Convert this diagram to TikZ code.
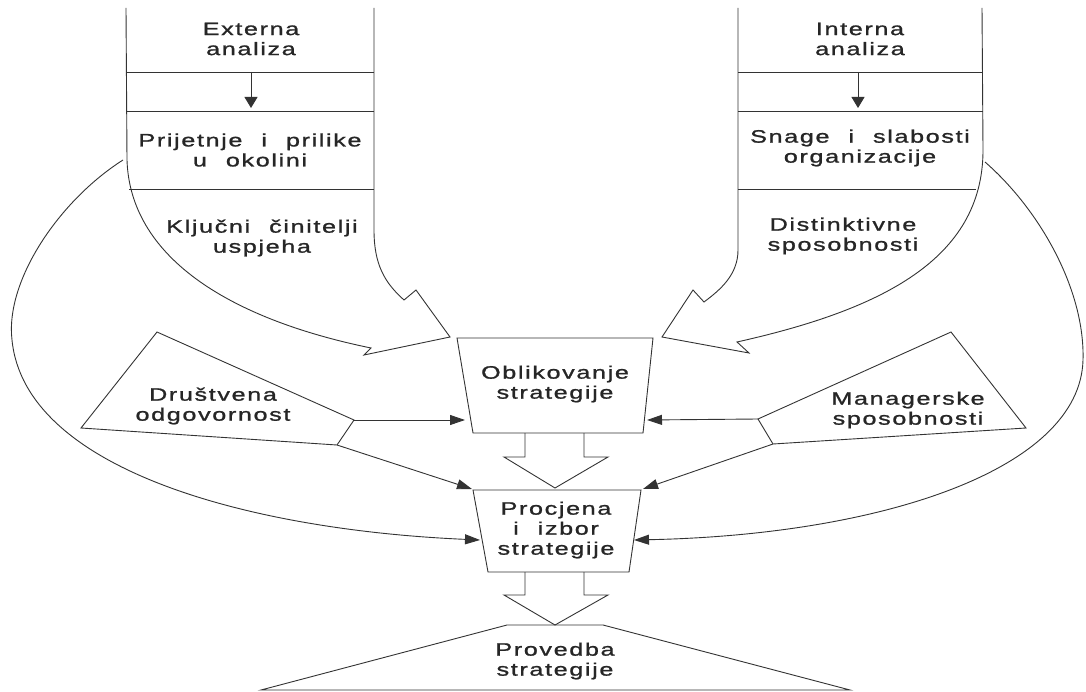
\documentclass[tikz,border=0pt]{standalone}
\usepackage{fontspec}
\setmainfont{Liberation Sans}[FakeStretch=1.4,LetterSpace=9,WordSpace=2.2,FakeBold=1.2]
\usetikzlibrary{arrows.meta}
\tikzset{
  shp/.style={draw=black!80, line width=0.9pt, line join=miter},
  lbl/.style={align=center, inner sep=0pt, text=black!85, font=\fontsize{18}{20}\selectfont},
  pointer/.style={shp, -{Triangle[length=15pt,width=10pt]}},
  drop/.style={shp, -{Triangle[length=11pt,width=13pt]}},
}

\begin{document}
\begin{tikzpicture}[x=1pt,y=-1pt]
  \useasboundingbox (0,0) rectangle (1086,692);

  % externa analiza (left column)
  \draw[shp] (126,8) -- (127,160) .. controls (130,255) and (225,318) .. (371,348)
    -- (364,355) -- (450,337) -- (416,290) -- (404,300)
    .. controls (385,283) and (374,265) .. (374,230) -- (374,8);
  \draw[shp] (126,72) -- (374,72) (126,111) -- (374,111) (129,189) -- (374,189);
  \node[lbl] (ext) at (251,39) {Externa\\analiza};
  \node[lbl] (prij) at (250,150) {Prijetnje i prilike\\u okolini};
  \node[lbl] (klj) at (262,238) {Ključni činitelji\\uspjeha};
  \coordinate (extA) at (251,72);
  \coordinate (extB) at (251,108);
  \draw[drop] (extA) -- (extB);

  % interna analiza (right column)
  \draw[shp] (738,8) -- (738,250) .. controls (738,275) and (720,290) .. (704,302)
    -- (693,290) -- (662,337) -- (749,353) -- (737,342)
    .. controls (880,310) and (983,260) .. (983,150) -- (982,8);
  \draw[shp] (738,72) -- (983,72) (738,111) -- (983,111) (738,189) -- (976,189);
  \node[lbl] (int) at (860,39) {Interna\\analiza};
  \node[lbl] (snage) at (860,148) {Snage i slabosti\\organizacije};
  \node[lbl] (dist) at (843,236) {Distinktivne\\sposobnosti};
  \coordinate (intA) at (858,72);
  \coordinate (intB) at (858,108);
  \draw[drop] (intA) -- (intB);

  % central chain
  \draw[shp] (457,338) -- (653,338) -- (643,433) -- (473,433) -- cycle;
  \node[lbl] (oblik) at (555,384) {Oblikovanje\\strategije};
  \draw[shp] (525,433) -- (525,457) -- (504,457) -- (555,488) -- (608,457) -- (584,457) -- (584,433);
  \draw[shp] (473,490) -- (641,490) -- (629,572) -- (488,572) -- cycle;
  \node[lbl] (procj) at (556,530) {Procjena\\i izbor\\strategije};
  \draw[shp] (525,572) -- (525,595) -- (504,595) -- (555,625) -- (608,595) -- (584,595) -- (584,572);
  \draw[shp] (507,625) -- (603,625) -- (850,690) -- (261,690) -- cycle;
  \node[lbl] (proved) at (555,661) {Provedba\\strategije};

  % side inputs
  \draw[shp] (157,332) -- (354,420) -- (337,445) -- (81,428) -- cycle;
  \node[lbl] (drus) at (213,406) {Društvena\\odgovornost};
  \draw[shp] (951,332) -- (1026,428) -- (773,444) -- (758,419) -- cycle;
  \node[lbl] (manag) at (908,410) {Managerske\\sposobnosti};

  \coordinate (drusR) at (354,420);
  \coordinate (drusB) at (337,445);
  \coordinate (managL) at (758,419);
  \coordinate (managB) at (773,444);
  \coordinate (oblikL) at (465,420);
  \coordinate (oblikR) at (647,420);
  \coordinate (procjTL) at (472,489);
  \coordinate (procjTR) at (643,489);
  \coordinate (procjL) at (480,540);
  \coordinate (procjR) at (634,540);
  \coordinate (extOut) at (123,160);
  \coordinate (intOut) at (985,162);

  \draw[pointer] (drusR) -- (oblikL);
  \draw[pointer] (drusB) -- (procjTL);
  \draw[pointer] (managL) -- (oblikR);
  \draw[pointer] (managB) -- (procjTR);

  % outer loops
  \draw[pointer] (extOut) .. controls (60,200) and (5,280) .. (12,340)
    .. controls (25,470) and (250,530) .. (procjL);
  \draw[pointer] (intOut) .. controls (1040,210) and (1085,290) .. (1083,360)
    .. controls (1080,470) and (880,535) .. (procjR);
\end{tikzpicture}
\end{document}
